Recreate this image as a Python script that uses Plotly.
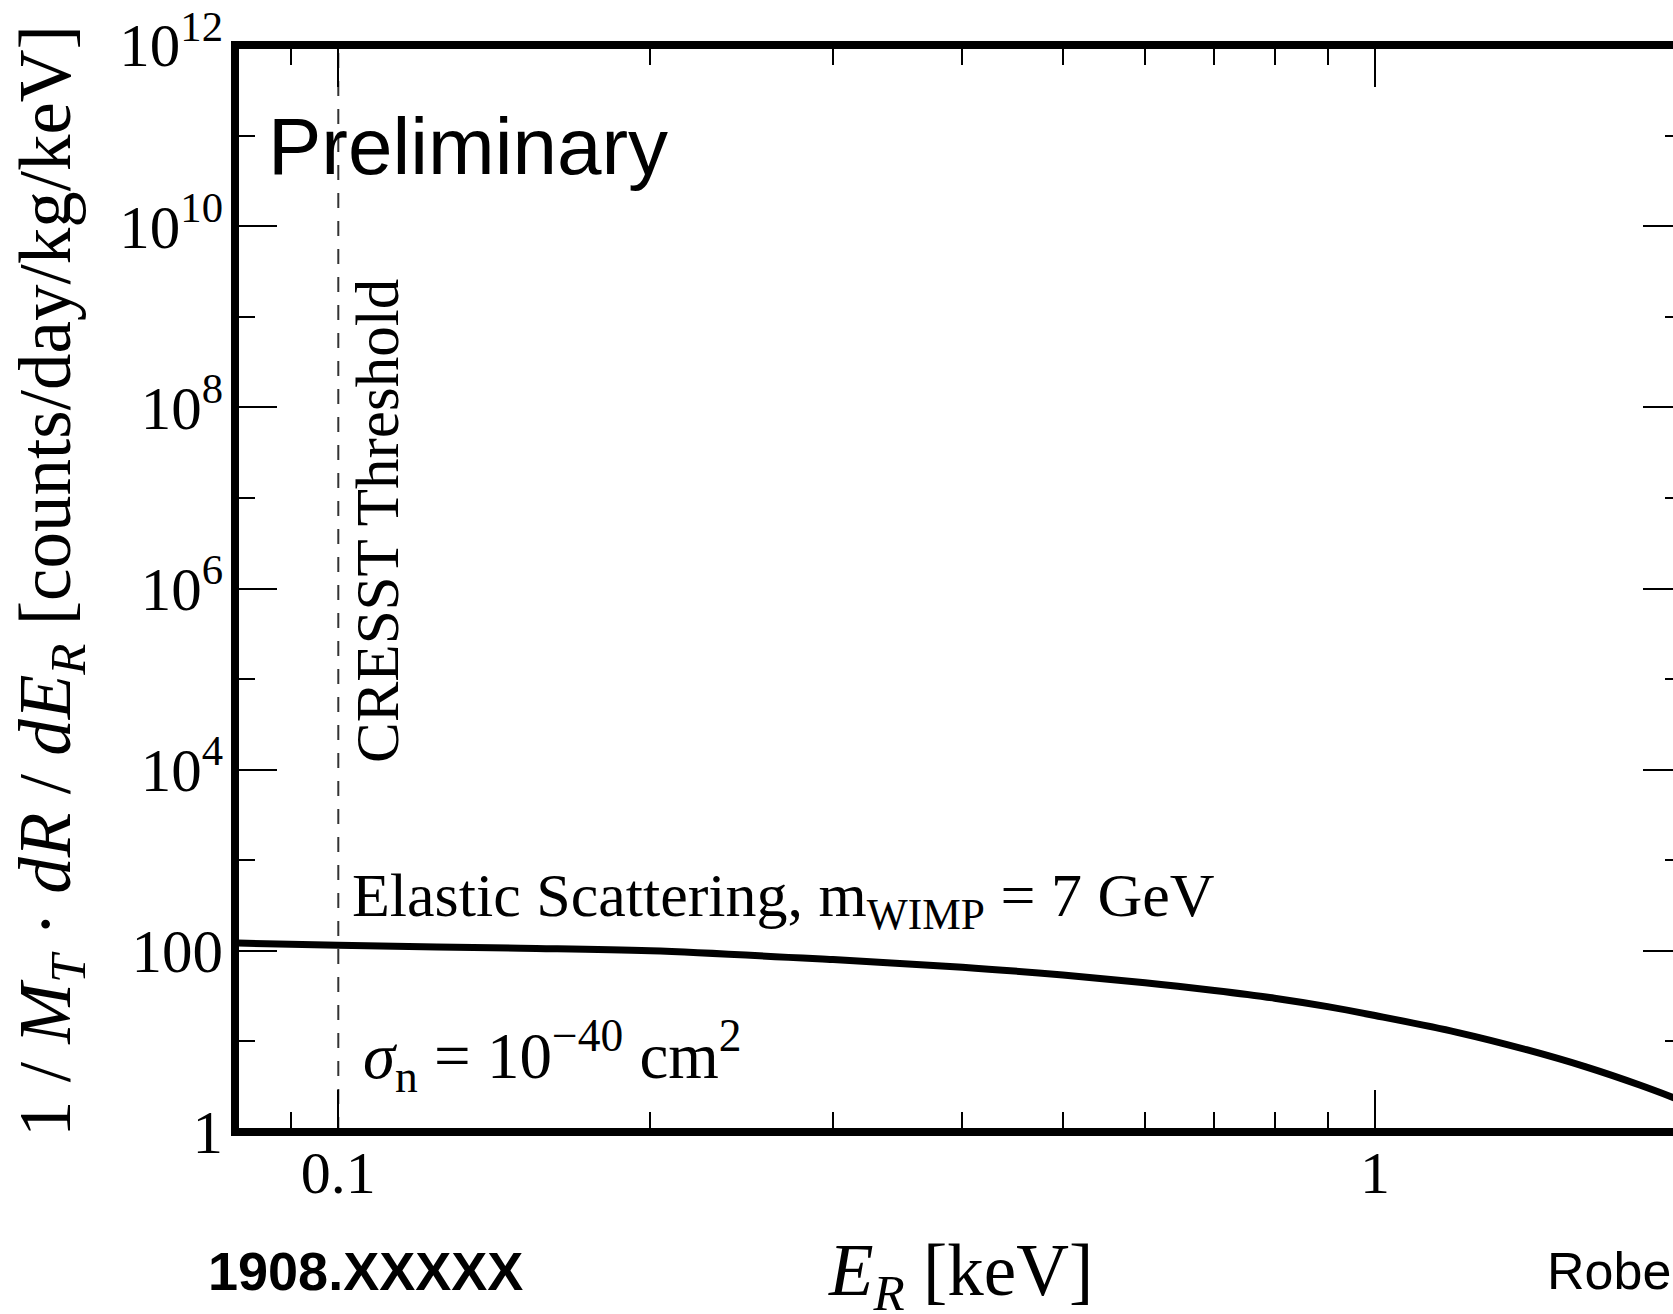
import numpy as np
import plotly.graph_objects as go

# ---- data ----
energy_kev = [0.08, 0.1, 0.15, 0.2, 0.3, 0.4, 0.5, 0.6, 0.7, 0.8, 0.9, 1.0, 1.2, 1.4, 1.6, 1.8, 2.0]
rate = [122, 115, 107, 100, 80, 66, 54, 44.5, 36.5, 30, 24.2, 19.3, 12.6, 8.1, 5.2, 3.3, 2.1]

threshold_kev = [0.1, 0.1]
threshold_rate = [1, 1e12]

y_tickvals = [1, 1e2, 1e4, 1e6, 1e8, 1e10, 1e12]
y_ticktext = ["1", "100", "10<sup>4</sup>", "10<sup>6</sup>", "10<sup>8</sup>",
              "10<sup>10</sup>", "10<sup>12</sup>"]
y_minor = [1e1, 1e3, 1e5, 1e7, 1e9, 1e11]
x_tickvals = [0.1, 1]
x_ticktext = ["0.1", "1"]
x_minor = [0.09, 0.2, 0.3, 0.4, 0.5, 0.6, 0.7, 0.8, 0.9, 2]

# ---- layout geometry (pixels) ----
W, H = 1673, 1314
L, T, B = 235, 45, 1132
PW, PH = W - L, B - T
x0_px, dec_px = 338.3, 1036.7  # pixel of 0.1 keV and pixels per decade
xr = [-1 - (x0_px - L) / dec_px, -1 + (W - x0_px) / dec_px]

SERIF = "Liberation Serif, Times New Roman, serif"
SANS = "Liberation Sans, Arial, sans-serif"

def px(x):
    return (x - L) / PW

def py(y):
    return (B - y) / PH

fig = go.Figure()
fig.add_trace(go.Scatter(x=threshold_kev, y=threshold_rate, mode="lines", yaxis="y2",
                         line=dict(color="#333333", width=2, dash="15px,13px"),
                         hoverinfo="skip", showlegend=False))
fig.add_trace(go.Scatter(x=energy_kev, y=rate, mode="lines",
                         line=dict(color="black", width=7, shape="spline"),
                         showlegend=False))

tick_common = dict(ticks="inside", tickcolor="black", tickwidth=2,
                   showgrid=False, zeroline=False, showline=False)

fig.update_layout(
    width=W, height=H,
    margin=dict(l=L, r=0, t=T, b=H - B, pad=0),
    paper_bgcolor="white", plot_bgcolor="white",
    xaxis=dict(type="log", range=xr, tickvals=x_tickvals, ticktext=x_ticktext,
               ticklen=42, mirror="ticks", automargin=False,
               tickfont=dict(family=SERIF, size=60, color="black"),
               minor=dict(tickvals=x_minor, ticks="inside", ticklen=20,
                          tickwidth=2, tickcolor="black", showgrid=False),
               **tick_common),
    yaxis=dict(type="log", range=[0, 12], tickvals=y_tickvals, ticktext=y_ticktext,
               ticklen=42, automargin=False, ticklabelstandoff=11,
               tickfont=dict(family=SERIF, size=61, color="black"),
               minor=dict(tickvals=y_minor, ticks="inside", ticklen=20,
                          tickwidth=2, tickcolor="black", showgrid=False),
               **tick_common),
    yaxis2=dict(type="log", range=[0, 12], overlaying="y", side="right", anchor="x",
                tickvals=y_tickvals, showticklabels=False, ticklen=30, automargin=False,
                minor=dict(tickvals=y_minor, ticks="inside", ticklen=8,
                           tickwidth=2, tickcolor="black", showgrid=False),
                **tick_common),
)

# frame lines
lw = 8
ex = 4 / PW
ey = 4 / PH
for (a, b, c, d) in [(-ex, 1.02, 0, 0), (-ex, 1.02, 1, 1), (0, 0, -ey, 1 + ey)]:
    fig.add_shape(type="line", xref="paper", yref="paper", x0=a, x1=b, y0=c, y1=d,
                  line=dict(color="black", width=lw), layer="above")

def ann(text, x, y, size, family, xanchor="left", yanchor="middle", angle=0, **kw):
    fig.add_annotation(text=text, xref="paper", yref="paper", x=px(x), y=py(y),
                       xanchor=xanchor, yanchor=yanchor, showarrow=False,
                       textangle=angle, font=dict(family=family, size=size, color="black"),
                       borderpad=0, borderwidth=0, **kw)

ann("Preliminary", 268, 146, 80, SANS)
ann("CRESST Threshold", 377, 521, 61, SERIF, xanchor="center", angle=-90)
ann("Elastic Scattering, m<sub>WIMP</sub> = 7 GeV", 352, 899, 62, SERIF)
ann("<i>σ</i><sub>n</sub> = 10<sup>−40</sup> cm<sup>2</sup>", 363, 1056, 65, SERIF)
ann("1 / <i>M</i><sub><i>T</i></sub> · <i>dR</i> / <i>dE</i><sub><i>R</i></sub> [counts/day/kg/keV]",
    50, 581, 73, SERIF, xanchor="center", angle=-90)
ann("<i>E</i><sub><i>R</i></sub> [keV]", 960, 1275, 73, SERIF, xanchor="center")
ann("<b>1908.XXXXX</b>", 208, 1271, 54, SANS)
ann("Robe", 1547, 1271, 52, SANS)

fig.write_html("out.html")
